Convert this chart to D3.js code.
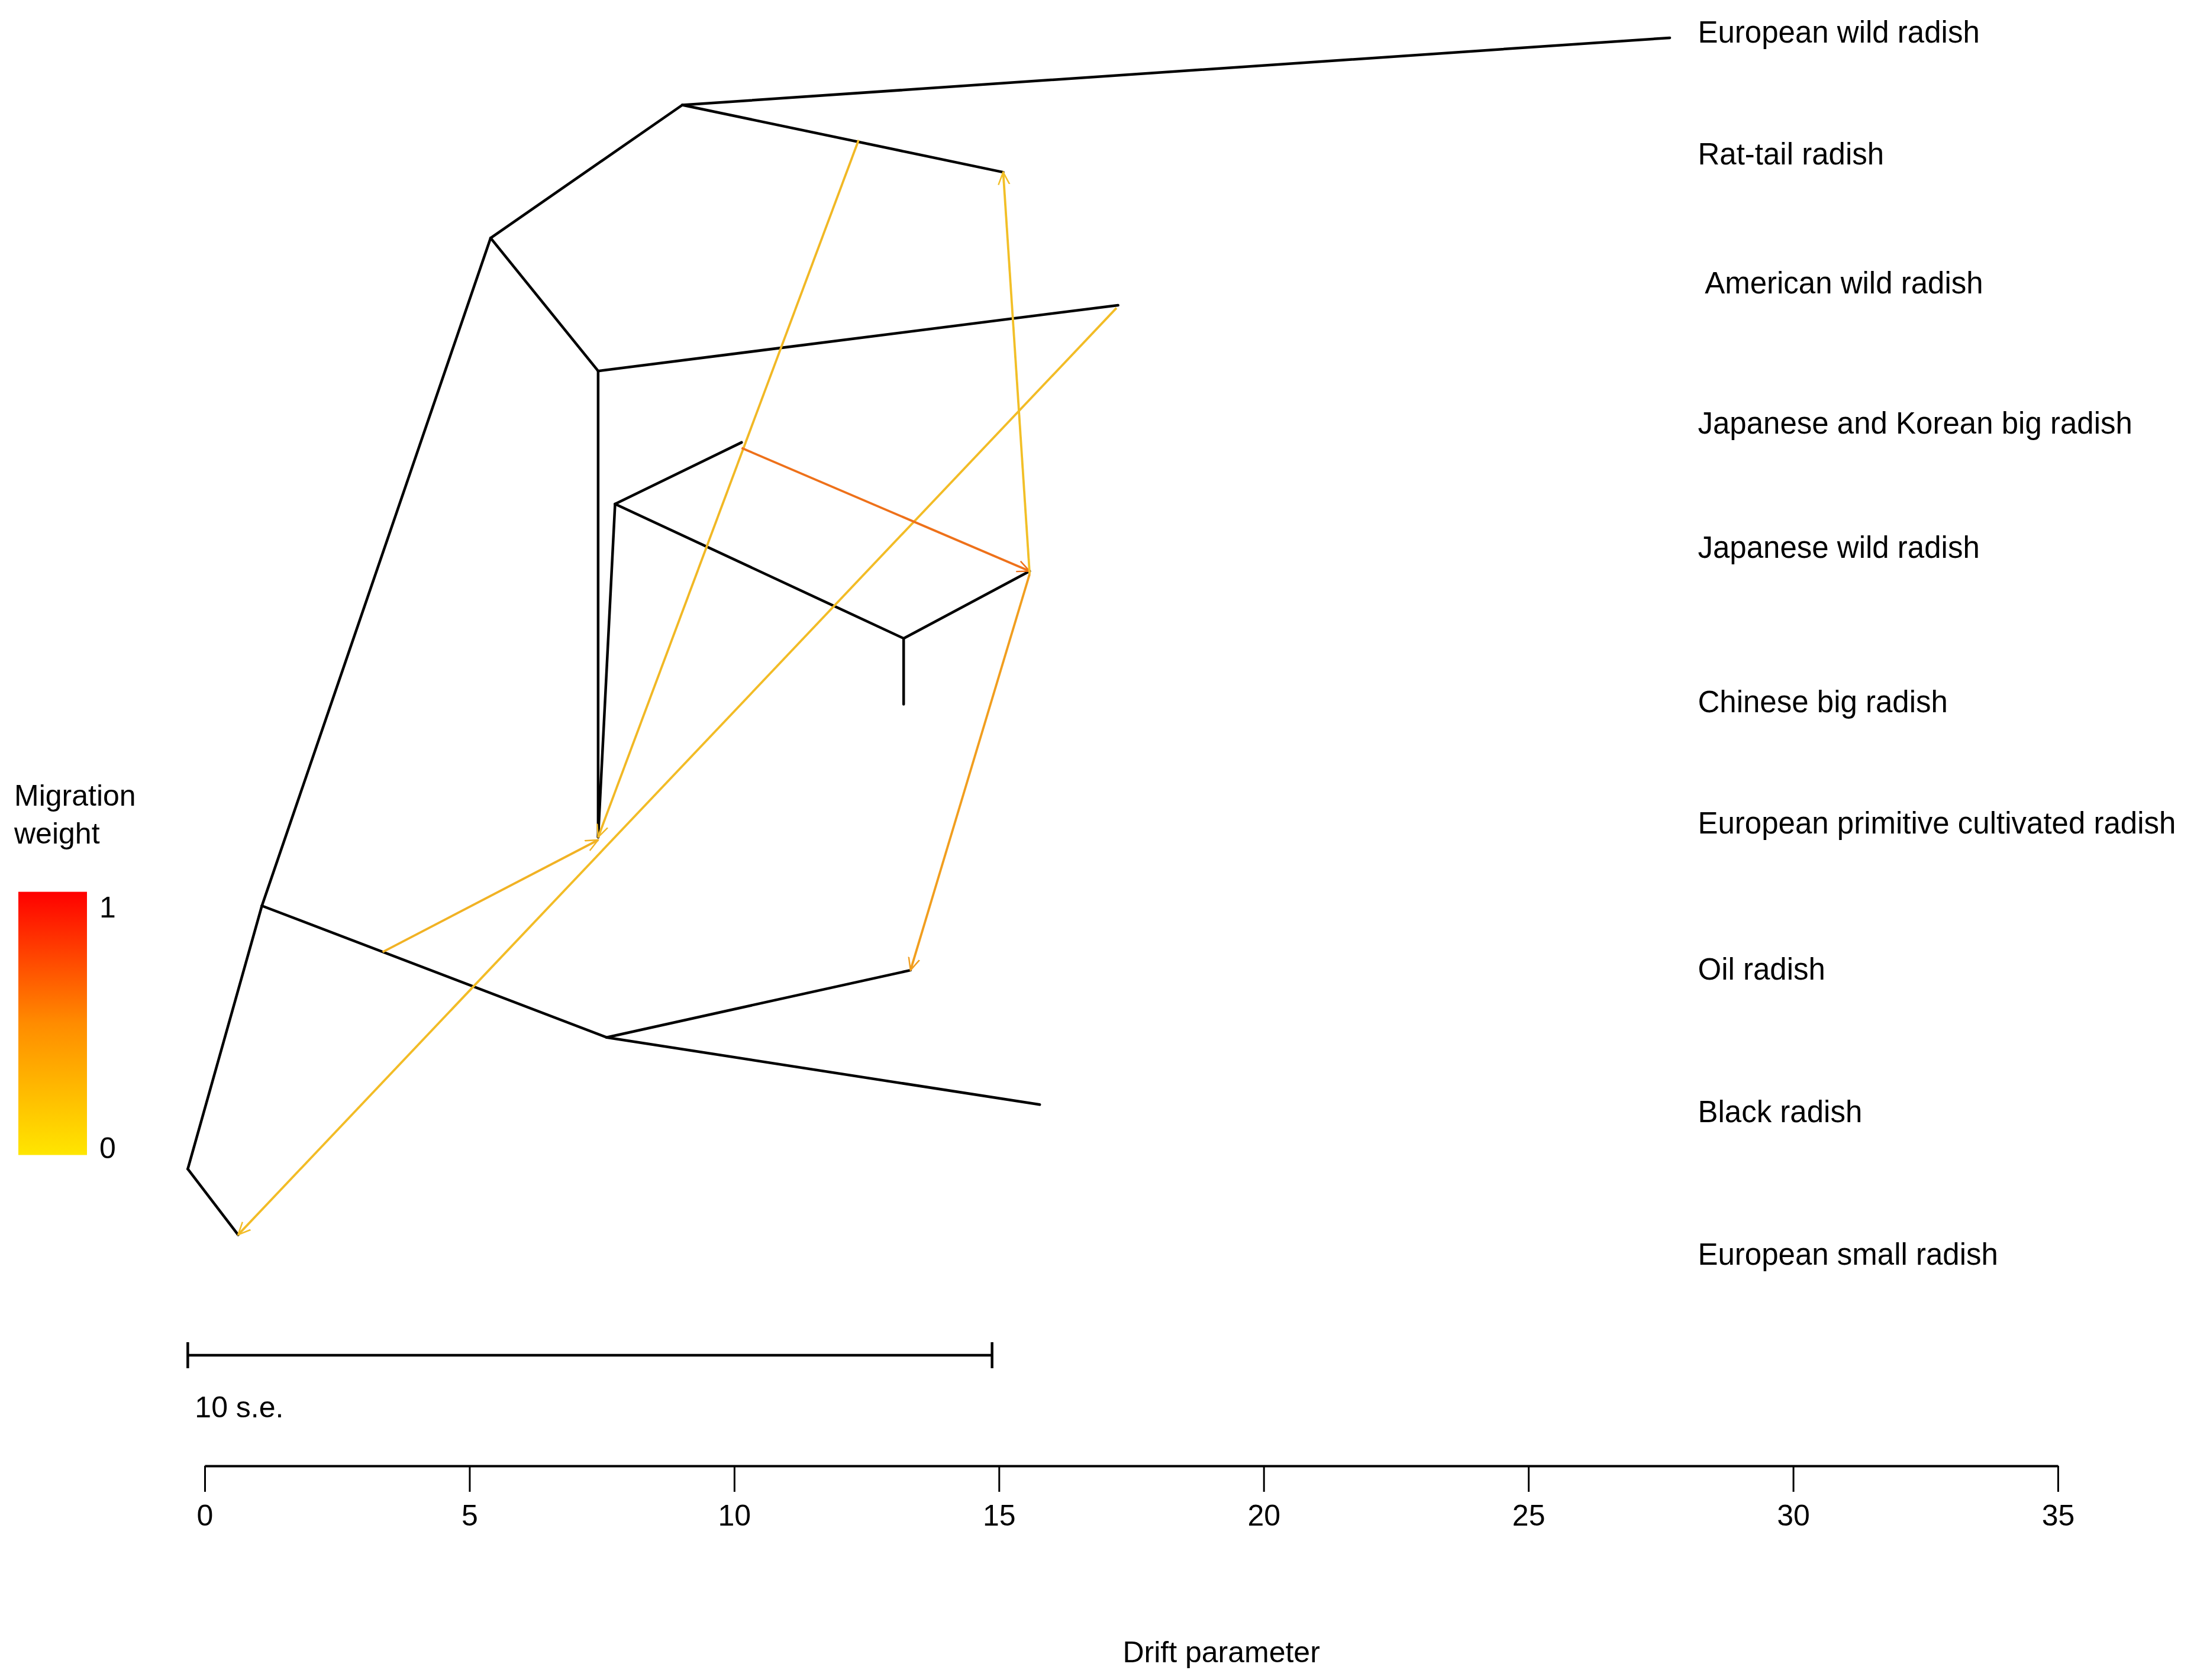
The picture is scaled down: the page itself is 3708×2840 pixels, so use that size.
<!DOCTYPE html>
<html><head><meta charset="utf-8">
<script src="https://cdn.jsdelivr.net/npm/d3@7"></script>
<style>body{margin:0;background:#fff}</style>
</head><body>
<script>
// Tree nodes: drift (x) and vertical layout position (y, arbitrary units)
const nodes = {
  A:{x:-0.32,y:835}, B:{x:0.63,y:882}, C:{x:1.08,y:647}, D:{x:5.40,y:170},
  E:{x:9.02,y:75}, F:{x:27.67,y:27}, G:{x:15.08,y:123}, H:{x:7.43,y:265},
  I:{x:17.25,y:218}, J:{x:7.43,y:598}, K:{x:7.75,y:360}, L:{x:10.14,y:316},
  M:{x:13.20,y:456}, N:{x:15.58,y:408}, R:{x:13.20,y:503}, O:{x:7.59,y:741},
  P:{x:13.33,y:693}, Q:{x:15.77,y:789}
};
const edges = [["A","B"],["A","C"],["C","D"],["D","E"],["E","F"],["E","G"],["D","H"],["H","I"],
  ["H","J"],["J","K"],["K","L"],["K","M"],["M","N"],["M","R"],["C","O"],["O","P"],["O","Q"]];
// Migration edges: from (x,y) to (x,y), weight
const migFromX = [12.35, 17.22, 10.14, 15.58, 15.58, 3.36];
const migFromY = [100, 220, 320, 410, 410, 680];
const migToX   = [7.43, 0.63, 15.58, 15.08, 13.33, 7.43];
const migToY   = [598, 882, 408, 123, 693, 600];
const migWeight= [0.15, 0.12, 0.62, 0.10, 0.35, 0.2];
const leafLabels = ["European wild radish","Rat-tail radish","American wild radish","Japanese and Korean big radish",
  "Japanese wild radish","Chinese big radish","European primitive cultivated radish","Oil radish","Black radish","European small radish"];
const leafLabelY = [23,110,202,302,391,501,588,692,794,896];
const leafLabelX = [28.2,28.2,28.33,28.2,28.2,28.2,28.2,28.2,28.2,28.2];
const axisTicks = [0,5,10,15,20,25,30,35];
const scaleBarStart = -0.32, scaleBarLen = 15.19;

const W=3708,H=2840;
const svg=d3.select("body").append("svg").attr("width",W).attr("height",H).style("font-family","Liberation Sans, Arial, sans-serif");
const x=d3.scaleLinear().domain([0,35]).range([346,3478]);
const y=d3.scaleLinear().domain([0,1200]).range([0,2840]);
const col=d3.scaleLinear().domain([0,0.5,1]).range(["#ffe600","#ff8c00","#ff0000"]);
const lineCol=d3.scaleLinear().domain([0,0.5,1]).range(["#f2cc2a","#f08a1a","#e8201a"]);

svg.append("g").selectAll("line").data(edges).join("line")
  .attr("x1",d=>x(nodes[d[0]].x)).attr("y1",d=>y(nodes[d[0]].y))
  .attr("x2",d=>x(nodes[d[1]].x)).attr("y2",d=>y(nodes[d[1]].y))
  .attr("stroke","#000").attr("stroke-width",4.5).attr("stroke-linecap","round");

const defs=svg.append("defs");
const mg=svg.append("g");
migWeight.forEach((w,i)=>{
  const c2=lineCol(w);
  defs.append("marker").attr("id","m"+i).attr("viewBox","0 -6 12 12").attr("refX",11).attr("refY",0)
    .attr("markerWidth",6).attr("markerHeight",6).attr("orient","auto").attr("markerUnits","strokeWidth")
    .append("path").attr("d","M0,-5L11,0L0,5").attr("fill","none").attr("stroke",c2).attr("stroke-width",1.3);
  mg.append("line").attr("x1",x(migFromX[i])).attr("y1",y(migFromY[i]))
    .attr("x2",x(migToX[i])).attr("y2",y(migToY[i]))
    .attr("stroke",c2).attr("stroke-width",3.8).attr("marker-end",`url(#m${i})`);
});

svg.append("g").selectAll("text").data(leafLabels).join("text")
  .attr("x",(d,i)=>x(leafLabelX[i])).attr("y",(d,i)=>y(leafLabelY[i])).attr("dy","0.35em")
  .attr("font-size",51).text(d=>d);

// legend
const grad=defs.append("linearGradient").attr("id","lg").attr("x1",0).attr("y1",1).attr("x2",0).attr("y2",0);
[0,0.5,1].forEach(v=>grad.append("stop").attr("offset",v).attr("stop-color",col(v)));
svg.append("rect").attr("x",31).attr("y",y(637)).attr("width",116).attr("height",y(825)-y(637)).attr("fill","url(#lg)");
svg.append("text").attr("x",24).attr("y",y(568)).attr("dy","0.35em").attr("font-size",50).text("Migration");
svg.append("text").attr("x",24).attr("y",y(595)).attr("dy","0.35em").attr("font-size",50).text("weight");
svg.append("text").attr("x",168).attr("y",y(648)).attr("dy","0.35em").attr("font-size",50).text("1");
svg.append("text").attr("x",168).attr("y",y(820)).attr("dy","0.35em").attr("font-size",50).text("0");

// scale bar
const sbY=y(968);
const sb=svg.append("g").attr("stroke","#000").attr("stroke-width",4.5);
sb.append("line").attr("x1",x(scaleBarStart)).attr("x2",x(scaleBarStart+scaleBarLen)).attr("y1",sbY).attr("y2",sbY);
[scaleBarStart,scaleBarStart+scaleBarLen].forEach(v=>sb.append("line").attr("x1",x(v)).attr("x2",x(v)).attr("y1",sbY-22).attr("y2",sbY+22));
svg.append("text").attr("x",x(scaleBarStart)+12).attr("y",y(1005)).attr("dy","0.35em").attr("font-size",50).text("10 s.e.");

// axis
const ax=svg.append("g").attr("transform",`translate(0,${y(1047)})`)
  .call(d3.axisBottom(x).tickValues(axisTicks).tickSize(44).tickPadding(22).tickSizeOuter(0));
ax.select(".domain").attr("stroke-width",4);
ax.selectAll(".tick line").attr("stroke-width",3);
ax.selectAll("text").attr("font-size",50).attr("font-family","Liberation Sans, Arial, sans-serif");
svg.append("text").attr("x",x(19.2)).attr("y",y(1180)).attr("dy","0.35em").attr("text-anchor","middle").attr("font-size",50).text("Drift parameter");
</script>
</body></html>
